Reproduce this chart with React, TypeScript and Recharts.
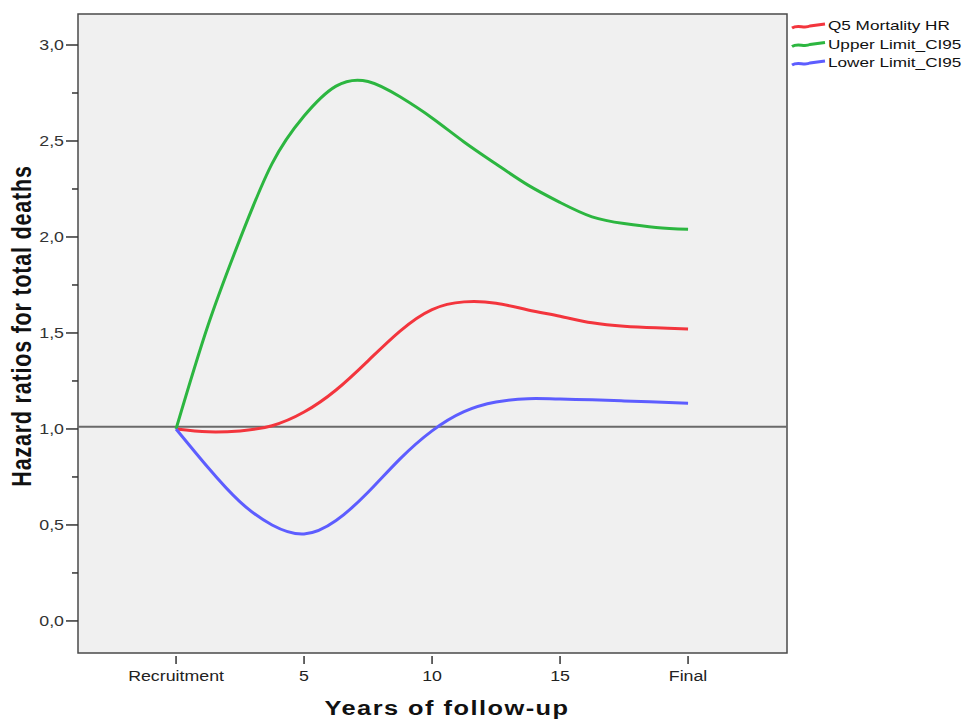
import React from 'react';
import {
  LineChart,
  Line,
  XAxis,
  YAxis,
  ReferenceArea,
  ReferenceLine,
  Legend,
} from 'recharts';

// positions along the follow-up axis (0 = Recruitment, 4 = Final)
const followUp = [0, 0.25, 0.5, 0.75, 1, 1.25, 1.5, 1.75, 2, 2.25, 2.5, 2.75, 3, 3.25, 3.5, 3.75, 4];
const mortalityHR = [1.0, 0.985, 0.99, 1.017, 1.088, 1.203, 1.355, 1.51, 1.622, 1.662, 1.655, 1.62, 1.587, 1.553, 1.535, 1.527, 1.521];
const upperCI = [1.0, 1.54, 1.99, 2.382, 2.63, 2.786, 2.81, 2.73, 2.62, 2.495, 2.38, 2.27, 2.18, 2.105, 2.07, 2.05, 2.04];
const lowerCI = [1.0, 0.799, 0.62, 0.5, 0.453, 0.523, 0.67, 0.844, 0.99, 1.09, 1.14, 1.158, 1.156, 1.152, 1.146, 1.14, 1.134];

const xTicks = [0, 1, 2, 3, 4];
const xTickLabels = ['Recruitment', '5', '10', '15', 'Final'];
const yTicks = [0, 0.25, 0.5, 0.75, 1, 1.25, 1.5, 1.75, 2, 2.25, 2.5, 2.75, 3];

const seriesNames = ['Q5 Mortality HR', 'Upper Limit_CI95', 'Lower Limit_CI95'];
const seriesColors = ['#f3353d', '#2cb640', '#5d5dff'];

const X_DOMAIN: [number, number] = [-0.766, 4.773];
const Y_DOMAIN: [number, number] = [-0.167, 3.1615];
const STRETCH = 1.27;
const FONT = '"Liberation Sans", Arial, sans-serif';

const data = followUp.map((x, i) => ({
  x,
  hr: mortalityHR[i],
  upper: upperCI[i],
  lower: lowerCI[i],
}));

const YTick = (props: any) => {
  const { x, y, payload } = props;
  const v = payload.value as number;
  const major = Math.abs(v * 2 - Math.round(v * 2)) < 1e-6;
  return (
    <g>
      <line x1={major ? x + 2 : x + 8} x2={x + 14} y1={y} y2={y} stroke="#333" strokeWidth={1.5} />
      {major && (
        <g transform={`translate(${x},${y + 5}) scale(${STRETCH},1)`}>
          <text textAnchor="end" fontSize={14} fill="#333" fontFamily={FONT}>
            {v.toFixed(1).replace('.', ',')}
          </text>
        </g>
      )}
    </g>
  );
};

const XTick = (props: any) => {
  const { x, y, payload } = props;
  return (
    <g>
      <line x1={x} x2={x} y1={y - 11} y2={y - 3} stroke="#333" strokeWidth={1.5} />
      <g transform={`translate(${x},${y + 14}) scale(${STRETCH},1)`}>
        <text textAnchor="middle" fontSize={14} fill="#222" fontFamily={FONT}>
          {xTickLabels[payload.value] ?? ''}
        </text>
      </g>
    </g>
  );
};

const renderLegend = () => (
  <svg width={183} height={72}>
    {seriesNames.map((name, i) => (
      <g key={name} transform={`translate(0,${17 + i * 18.5})`}>
        <path d="M6,3 C12,-1 18,4 24,1 L39,-1" stroke={seriesColors[i]} strokeWidth={3} fill="none" />
        <g transform={`translate(42,5) scale(${STRETCH},1)`}>
          <text fontSize={13.5} fill="#111" fontFamily={FONT}>{name}</text>
        </g>
      </g>
    ))}
  </svg>
);

export default function App() {
  return (
    <div style={{ position: 'absolute', left: 0, top: 0, width: 969, height: 721, background: '#fff' }}>
      <LineChart
        width={969}
        height={721}
        data={data}
        margin={{ top: 14, right: 182, bottom: 0, left: 0 }}
      >
        <ReferenceArea
          x1={X_DOMAIN[0]}
          x2={X_DOMAIN[1]}
          y1={Y_DOMAIN[0]}
          y2={Y_DOMAIN[1]}
          fill="#f0f0f0"
          fillOpacity={1}
          stroke="#4a4a4a"
          strokeWidth={1.5}
          ifOverflow="extendDomain"
        />
        <XAxis
          dataKey="x"
          type="number"
          domain={X_DOMAIN}
          ticks={xTicks}
          allowDataOverflow
          axisLine={false}
          tickLine={false}
          tickSize={11}
          tickMargin={3}
          height={68}
          tick={<XTick />}
          interval={0}
        />
        <YAxis
          type="number"
          domain={Y_DOMAIN}
          ticks={yTicks}
          allowDataOverflow
          axisLine={false}
          tickLine={false}
          tickSize={12}
          tickMargin={2}
          width={78}
          tick={<YTick />}
          interval={0}
        />
        <ReferenceLine y={1.012} stroke="#6a6a6a" strokeWidth={2} />
        <Line dataKey="hr" name={seriesNames[0]} stroke={seriesColors[0]} strokeWidth={3} type="natural" dot={false} isAnimationActive={false} />
        <Line dataKey="upper" name={seriesNames[1]} stroke={seriesColors[1]} strokeWidth={3} type="natural" dot={false} isAnimationActive={false} />
        <Line dataKey="lower" name={seriesNames[2]} stroke={seriesColors[2]} strokeWidth={3} type="natural" dot={false} isAnimationActive={false} />
        <Legend
          layout="vertical"
          align="center"
          verticalAlign="middle"
          content={renderLegend}
          wrapperStyle={{ left: 786, top: 8, width: 183, height: 72 }}
        />
      </LineChart>
      <svg width={969} height={721} style={{ position: 'absolute', left: 0, top: 0, pointerEvents: 'none' }}>
        <g transform={`translate(447,715) scale(${STRETCH},1)`}>
          <text textAnchor="middle" fontSize={20} fontWeight="bold" fill="#111" fontFamily={FONT} letterSpacing={1.15}>
            Years of follow-up
          </text>
        </g>
        <g transform={`translate(31,326) scale(${STRETCH},1) rotate(-90)`}>
          <text textAnchor="middle" fontSize={21.5} fontWeight="bold" fill="#111" fontFamily={FONT} letterSpacing={0.8}>
            Hazard ratios for total deaths
          </text>
        </g>
      </svg>
    </div>
  );
}
